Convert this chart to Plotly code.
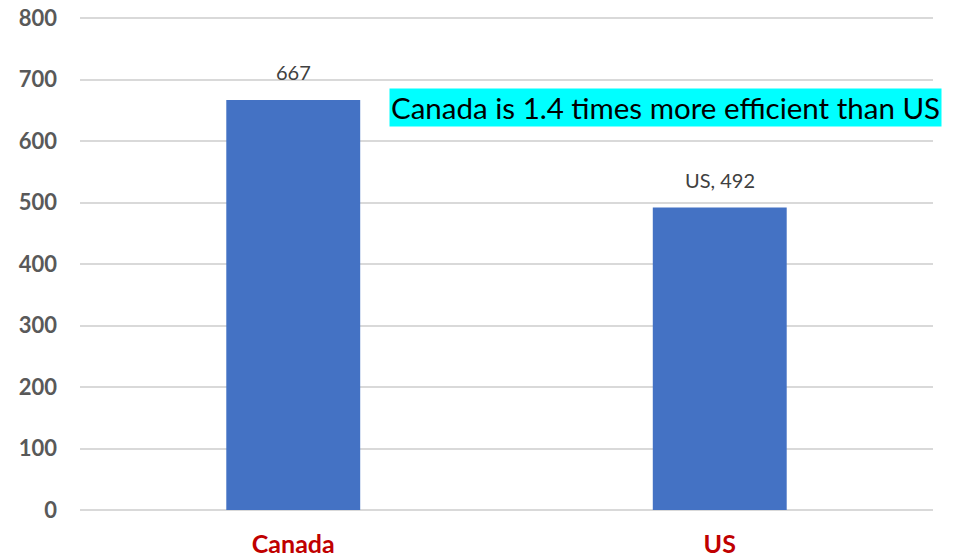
import plotly.graph_objects as go

categories = ["Canada", "US"]
values = [667, 492]
value_labels = ["667", "US, 492"]
tick_vals = [0, 100, 200, 300, 400, 500, 600, 700, 800]
note = "Canada is 1.4 times more efficient than US"

fig = go.Figure()
fig.add_trace(go.Bar(
    x=categories, y=values,
    marker=dict(color="#4472C4", line=dict(width=0)),
    hoverinfo="skip",
))

for c, v, t in zip(categories, values, value_labels):
    fig.add_annotation(x=c, y=v, text=t, showarrow=False, yanchor="bottom",
                       yshift=14, font=dict(family="Lato", size=20, color="#404040"))

fig.add_annotation(xref="paper", yref="paper", x=0.686, y=0.8166, text=note,
                   showarrow=False, xanchor="center", yanchor="middle",
                   bgcolor="#00FFFF", borderpad=1,
                   font=dict(family="Lato", size=29.5, color="#000000"))

fig.update_layout(
    width=969, height=560,
    margin=dict(l=80, r=36, t=17, b=50),
    paper_bgcolor="white", plot_bgcolor="white",
    bargap=0.686,
    showlegend=False,
    xaxis=dict(
        tickfont=dict(family="Lato", size=25, color="#C00000", weight="bold"),
        showgrid=False, showline=False, ticks="", ticklabelstandoff=17,
        automargin=False,
    ),
    yaxis=dict(
        range=[0, 802], tickvals=tick_vals,
        tickfont=dict(family="Lato", size=22, color="#595959", weight="bold"),
        showgrid=True, gridcolor="#D9D9D9", gridwidth=1.5,
        zeroline=True, zerolinecolor="#D9D9D9", zerolinewidth=1.5,
        ticks="", ticklabelstandoff=22, automargin=False,
        ticklabeloverflow="allow",
    ),
)

fig.write_html("out.html",
               config={"displayModeBar": False},
               post_script="document.body.style.margin='0';document.body.style.overflow='hidden';")
